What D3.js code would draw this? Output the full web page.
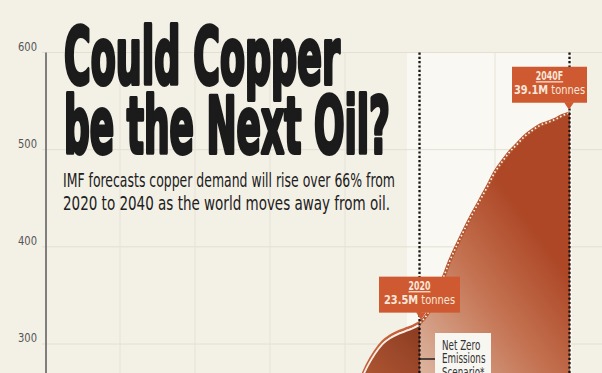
<!DOCTYPE html>
<html>
<head>
<meta charset="utf-8">
<script src="https://cdn.jsdelivr.net/npm/d3@7"></script>
<style>
  html, body { margin: 0; padding: 0; background: #f3f0e6; }
  svg { display: block; }
  .cond { font-family: "Liberation Sans Narrow", "DejaVu Sans Condensed", "Roboto Condensed", "Roboto", sans-serif; }
</style>
</head>
<body>
<svg id="svg0" width="602" height="373"></svg>
<script>
// data
var histYears = [2010, 2011, 2012, 2013, 2014, 2015, 2016, 2017, 2018, 2019, 2020];
var histValues = [236, 248, 261, 277, 290, 300, 306, 310, 313, 316, 320];

var fcstYears = [2020, 2021, 2022, 2023, 2024, 2025, 2026, 2027, 2028, 2029, 2030,
                 2031, 2032, 2033, 2034, 2035, 2036, 2037, 2038, 2039, 2040];
var fcstValues = [322, 331, 348, 366, 386, 403, 419, 434, 448, 462, 477,
                  488, 498, 506, 514, 520, 525, 528, 531, 535, 538];

var yTicks = [300, 400, 500, 600];
var gridYears = [1980, 1990, 2000, 2010, 2020, 2030, 2040];

var titleLines = ["Could Copper", "be the Next Oil?"];
var subtitleLines = ["IMF forecasts copper demand will rise over 66% from",
                     "2020 to 2040 as the world moves away from oil."];
var callouts = [
  {year: "2020", value: "23.5M", x: 2020, v: 322},
  {year: "2040F", value: "39.1M", x: 2040, v: 538}
];
var scenarioLines = ["Net Zero", "Emissions", "Scenario*"];

var width = 602, height = 373;

var svg = d3.select('#svg0');

var x = d3.scaleLinear().domain([1970, 2040]).range([45, 570]);
var y = d3.scaleLinear().domain([200, 600]).range([441.2, 52.5]);

// squeeze a text to a share of its natural width
function condense(sel, k) {
    sel.each(function () {
        var w = this.getComputedTextLength();
        d3.select(this).attr('textLength', w * k).attr('lengthAdjust', 'spacingAndGlyphs');
    });
}

var defs = svg.append('defs');

var gF = defs.append('linearGradient').attr('id', 'gFcst')
    .attr('gradientUnits', 'userSpaceOnUse')
    .attr('x1', 425).attr('y1', 373).attr('x2', 565).attr('y2', 270);
gF.append('stop').attr('offset', 0).attr('stop-color', '#dbb29c');
gF.append('stop').attr('offset', 0.55).attr('stop-color', '#c47352');
gF.append('stop').attr('offset', 1).attr('stop-color', '#ad4726');

var gH = defs.append('linearGradient').attr('id', 'gHist')
    .attr('gradientUnits', 'userSpaceOnUse')
    .attr('x1', 365).attr('y1', 373).attr('x2', 420).attr('y2', 320);
gH.append('stop').attr('offset', 0).attr('stop-color', '#ad5533');
gH.append('stop').attr('offset', 1).attr('stop-color', '#8a3a20');

// background
svg.append('rect').attr('width', width).attr('height', height).attr('fill', '#f3f0e6');

// light forecast band
svg.append('rect')
    .attr('x', 407).attr('y', y(600))
    .attr('width', x(2040) + 2 - 407).attr('height', height - y(600))
    .attr('fill', '#f9f8f3');

// grid
svg.append('g').selectAll('line.h')
    .data(yTicks)
    .enter()
    .append('line')
    .attr('x1', 42).attr('x2', width)
    .attr('y1', function (d) { return y(d); })
    .attr('y2', function (d) { return y(d); })
    .attr('stroke', '#e3dfd2')
    .attr('stroke-width', 1);

svg.append('g').selectAll('line.v')
    .data(gridYears)
    .enter()
    .append('line')
    .attr('x1', function (d) { return x(d); })
    .attr('x2', function (d) { return x(d); })
    .attr('y1', y(600)).attr('y2', height)
    .attr('stroke', '#e6e2d6')
    .attr('stroke-width', 1);

// forecast area
var fcst = fcstYears.map(function (d, i) { return [d, fcstValues[i]]; });
var hist = histYears.map(function (d, i) { return [d, histValues[i]]; });

var area = d3.area()
    .x(function (d) { return x(d[0]); })
    .y0(y(200))
    .y1(function (d) { return y(d[1]); })
    .curve(d3.curveMonotoneX);

var line = d3.line()
    .x(function (d) { return x(d[0]); })
    .y(function (d) { return y(d[1]); })
    .curve(d3.curveMonotoneX);

svg.append('path').datum(fcst)
    .attr('d', area)
    .attr('fill', 'url(#gFcst)');

svg.append('path').datum(fcst)
    .attr('d', line)
    .attr('fill', 'none')
    .attr('stroke', '#b4552f')
    .attr('stroke-width', 3.4);

svg.append('path').datum(fcst)
    .attr('d', line)
    .attr('fill', 'none')
    .attr('stroke', '#fbf1ea')
    .attr('stroke-width', 1.7)
    .attr('stroke-dasharray', '1.6 2.4');

// historical area with double edge
svg.append('path').datum(hist)
    .attr('d', area)
    .attr('fill', 'url(#gHist)');

svg.append('path').datum(hist)
    .attr('d', line)
    .attr('transform', 'translate(0,-2.4)')
    .attr('fill', 'none')
    .attr('stroke', '#c4603a')
    .attr('stroke-width', 2.6);

svg.append('path').datum(hist)
    .attr('d', line)
    .attr('fill', 'none')
    .attr('stroke', '#fbeee6')
    .attr('stroke-width', 1.8);

// dotted year markers
svg.append('g').selectAll('line.dot')
    .data([2020, 2040])
    .enter()
    .append('line')
    .attr('x1', function (d) { return x(d) - 0.5; })
    .attr('x2', function (d) { return x(d) - 0.5; })
    .attr('y1', y(600)).attr('y2', height)
    .attr('stroke', '#151515')
    .attr('stroke-width', 2.3)
    .attr('stroke-dasharray', '2.2 2.1');

// y axis
var yAxis = svg.append('g')
    .attr('transform', 'translate(46,0)')
    .call(d3.axisLeft(y).tickValues(yTicks).tickSize(0).tickPadding(9));
yAxis.select('.domain').remove();
yAxis.selectAll('text')
    .attr('class', 'cond')
    .attr('dy', '-0.2em')
    .attr('font-size', 12.5)
    .attr('fill', '#555')
    .attr('textLength', 19)
    .attr('lengthAdjust', 'spacingAndGlyphs');

svg.append('line')
    .attr('x1', 46).attr('x2', 46)
    .attr('y1', y(600)).attr('y2', height)
    .attr('stroke', '#5a5a5a')
    .attr('stroke-width', 1.5);

// callouts
var co = svg.append('g').selectAll('g.callout')
    .data(callouts)
    .enter()
    .append('g')
    .attr('transform', function (d) {
        var tx = x(d.x) + (d.x === 2020 ? 1 : -1);
        return 'translate(' + tx + ',' + (y(d.v) - 3) + ')';
    });

co.append('rect')
    .attr('x', function (d) { return d.x === 2020 ? -42 : -57; })
    .attr('y', -43)
    .attr('width', function (d) { return d.x === 2020 ? 81 : 75; })
    .attr('height', 36)
    .attr('fill', '#cf5930');

co.append('path')
    .attr('d', 'M-5,-7.5L5,-7.5L0,0Z')
    .attr('fill', '#cf5930');

co.append('text')
    .attr('class', 'cond')
    .attr('x', function (d) { return d.x === 2020 ? -1.5 : -19.5; })
    .attr('y', -29.5)
    .attr('text-anchor', 'middle')
    .attr('font-size', 12.5)
    .attr('font-weight', 'bold')
    .attr('fill', '#f8e7da')
    .attr('text-decoration', 'underline')
    .text(function (d) { return d.year; })
    .call(condense, 0.7);

var vt = co.append('text')
    .attr('class', 'cond')
    .attr('x', function (d) { return d.x === 2020 ? -1.5 : -19.5; })
    .attr('y', -16)
    .attr('text-anchor', 'middle')
    .attr('font-size', 12.5)
    .attr('fill', '#f8e7da');
vt.append('tspan').attr('font-weight', 'bold').text(function (d) { return d.value; });
vt.append('tspan').text(' tonnes');
vt.call(condense, 0.88);

// net zero note
svg.append('line')
    .attr('x1', x(2020)).attr('x2', 435)
    .attr('y1', 359).attr('y2', 359)
    .attr('stroke', '#222')
    .attr('stroke-width', 1.5);

svg.append('rect')
    .attr('x', 435).attr('y', 333)
    .attr('width', 56).attr('height', 50)
    .attr('fill', '#f8f6f1');

svg.append('g').selectAll('text')
    .data(scenarioLines)
    .enter()
    .append('text')
    .attr('class', 'cond')
    .attr('x', 442)
    .attr('y', function (d, i) { return 350 + i * 13.3; })
    .attr('font-size', 13.5)
    .attr('fill', '#333')
    .text(function (d) { return d; })
    .call(condense, 0.72);

// title
svg.append('g').selectAll('text')
    .data(titleLines)
    .enter()
    .append('text')
    .attr('class', 'cond')
    .attr('x', 64)
    .attr('y', function (d, i) { return 84 + i * 69; })
    .attr('font-size', 78)
    .attr('font-weight', 'bold')
    .attr('fill', '#1b1b1b')
    .attr('stroke', '#1b1b1b')
    .attr('stroke-width', 4)
    .attr('stroke-linejoin', 'round')
    .attr('textLength', function (d, i) { return i === 0 ? 276 : 326; })
    .attr('lengthAdjust', 'spacingAndGlyphs')
    .text(function (d) { return d; });

// subtitle
svg.append('g').selectAll('text')
    .data(subtitleLines)
    .enter()
    .append('text')
    .attr('class', 'cond')
    .attr('x', 63)
    .attr('y', function (d, i) { return 187 + i * 23; })
    .attr('font-size', 19)
    .attr('fill', '#202020')
    .attr('textLength', function (d, i) { return i === 0 ? 332 : 327; })
    .attr('lengthAdjust', 'spacingAndGlyphs')
    .text(function (d) { return d; });
</script>
</body>
</html>
